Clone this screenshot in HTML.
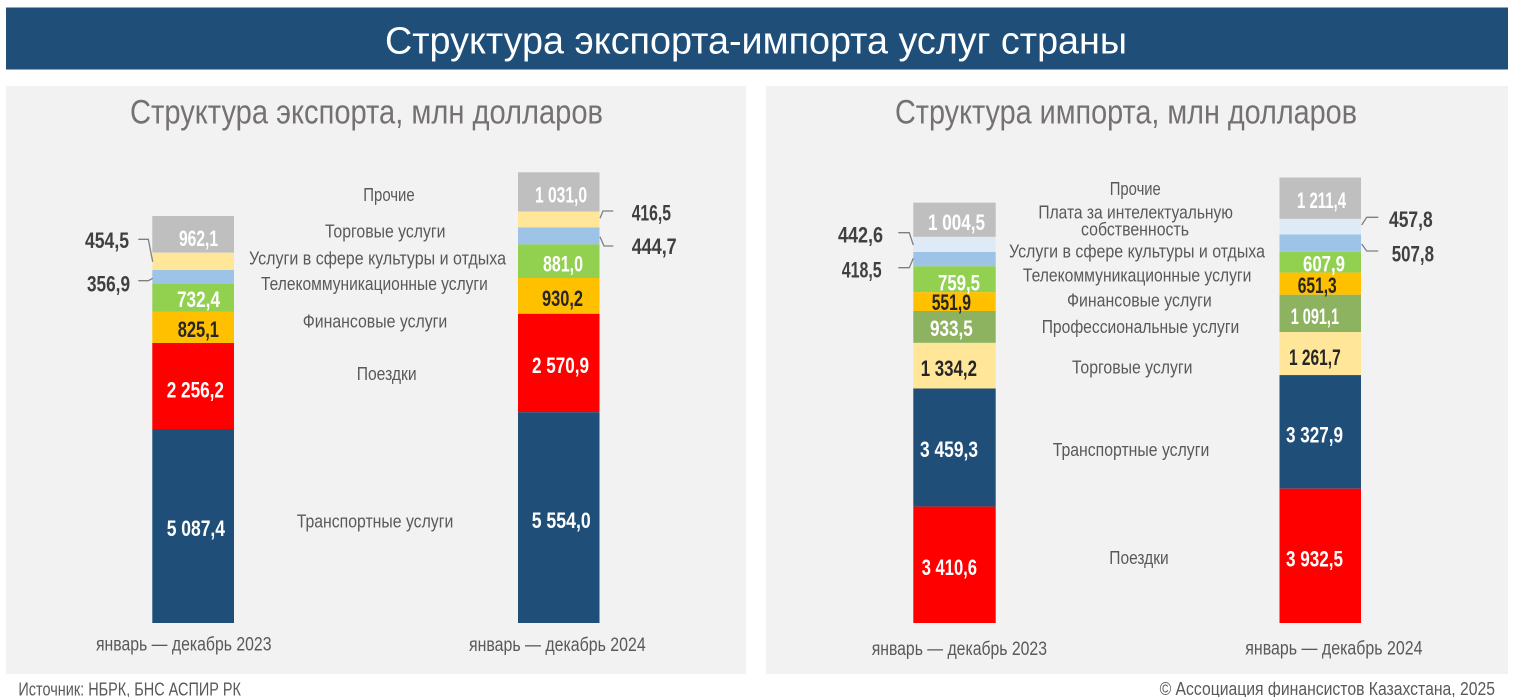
<!DOCTYPE html>
<html><head><meta charset="utf-8"><style>
html,body{margin:0;padding:0;background:#fff;}
svg{display:block;}
text{font-family:"Liberation Sans Narrow","Liberation Sans","Noto Sans CJK SC",sans-serif;}
.v{font-size:22px;font-weight:bold;}
.w{fill:#fff;}
.d{fill:#262626;}
.o{fill:#404040;}
.l{font-size:18px;fill:#595959;}
.c{font-size:19px;fill:#595959;}
</style></head><body>
<svg width="1515" height="697" viewBox="0 0 1515 697" xmlns="http://www.w3.org/2000/svg">
<rect x="0" y="0" width="1515" height="697" fill="#fff"/>
<!-- header -->
<rect x="6" y="7.5" width="1502" height="62" fill="#1f4e79"/>
<text x="385" y="53.5" font-size="38" fill="#fff" textLength="742" lengthAdjust="spacingAndGlyphs">Структура экспорта-импорта услуг страны</text>
<!-- panels -->
<rect x="6" y="86" width="740" height="588" fill="#f2f2f2"/>
<rect x="766" y="86" width="742" height="588" fill="#f2f2f2"/>
<text x="130" y="123.5" font-size="34" fill="#767171" textLength="473" lengthAdjust="spacingAndGlyphs">Структура экспорта, млн долларов</text>
<text x="895" y="123.5" font-size="34" fill="#767171" textLength="462" lengthAdjust="spacingAndGlyphs">Структура импорта, млн долларов</text>

<!-- EXPORT 2023 -->
<g>
<rect x="152.3" y="216.0" width="81.7" height="36.7" fill="#bfbfbf"/>
<rect x="152.3" y="252.7" width="81.7" height="17.3" fill="#ffe699"/>
<rect x="152.3" y="270.0" width="81.7" height="13.6" fill="#9dc3e6"/>
<rect x="152.3" y="283.6" width="81.7" height="27.9" fill="#92d050"/>
<rect x="152.3" y="311.5" width="81.7" height="31.5" fill="#ffc000"/>
<rect x="152.3" y="343.0" width="81.7" height="86.0" fill="#ff0000"/>
<rect x="152.3" y="429.0" width="81.7" height="194.0" fill="#1f4e79"/>
</g>
<text class="v w" x="179" y="246" textLength="39" lengthAdjust="spacingAndGlyphs">962,1</text>
<text class="v w" x="177" y="307" textLength="43" lengthAdjust="spacingAndGlyphs">732,4</text>
<text class="v d" x="177.7" y="337" textLength="41.3" lengthAdjust="spacingAndGlyphs">825,1</text>
<text class="v w" x="166.7" y="397.3" textLength="57.3" lengthAdjust="spacingAndGlyphs">2 256,2</text>
<text class="v w" x="166.7" y="536" textLength="58.3" lengthAdjust="spacingAndGlyphs">5 087,4</text>
<text class="v o" x="85" y="248" textLength="44" lengthAdjust="spacingAndGlyphs">454,5</text>
<text class="v o" x="87" y="291.5" textLength="43" lengthAdjust="spacingAndGlyphs">356,9</text>
<polyline points="138.3,239.3 148.3,239.3 152.7,261.7" fill="none" stroke="#7f7f7f" stroke-width="1.3"/>
<polyline points="138.3,280.7 148.3,280.7 152.7,278.3" fill="none" stroke="#7f7f7f" stroke-width="1.3"/>

<!-- EXPORT 2024 -->
<g>
<rect x="518" y="172.3" width="81.5" height="39.3" fill="#bfbfbf"/>
<rect x="518" y="211.6" width="81.5" height="15.9" fill="#ffe699"/>
<rect x="518" y="227.5" width="81.5" height="16.9" fill="#9dc3e6"/>
<rect x="518" y="244.4" width="81.5" height="33.6" fill="#92d050"/>
<rect x="518" y="278.0" width="81.5" height="35.8" fill="#ffc000"/>
<rect x="518" y="313.8" width="81.5" height="98.4" fill="#ff0000"/>
<rect x="518" y="412.2" width="81.5" height="210.8" fill="#1f4e79"/>
</g>
<text class="v w" x="535" y="202.5" textLength="52" lengthAdjust="spacingAndGlyphs">1 031,0</text>
<text class="v w" x="543" y="271.5" textLength="40" lengthAdjust="spacingAndGlyphs">881,0</text>
<text class="v d" x="542" y="306" textLength="41" lengthAdjust="spacingAndGlyphs">930,2</text>
<text class="v w" x="532" y="373" textLength="57" lengthAdjust="spacingAndGlyphs">2 570,9</text>
<text class="v w" x="531.7" y="528" textLength="59" lengthAdjust="spacingAndGlyphs">5 554,0</text>
<text class="v o" x="631.7" y="220.5" textLength="39.3" lengthAdjust="spacingAndGlyphs">416,5</text>
<text class="v o" x="631.7" y="254" textLength="45" lengthAdjust="spacingAndGlyphs">444,7</text>
<polyline points="600,218.3 603,211 613.3,211" fill="none" stroke="#7f7f7f" stroke-width="1.3"/>
<polyline points="600,236.7 604,246 613.3,246" fill="none" stroke="#7f7f7f" stroke-width="1.3"/>

<!-- export legend -->
<text class="l" x="363.3" y="201" textLength="51.4" lengthAdjust="spacingAndGlyphs">Прочие</text>
<text class="l" x="325" y="237.7" textLength="120.5" lengthAdjust="spacingAndGlyphs">Торговые услуги</text>
<text class="l" x="249" y="264.3" textLength="257" lengthAdjust="spacingAndGlyphs">Услуги в сфере культуры и отдыха</text>
<text class="l" x="261" y="290" textLength="226.8" lengthAdjust="spacingAndGlyphs">Телекоммуникационные услуги</text>
<text class="l" x="302.7" y="327.3" textLength="144.6" lengthAdjust="spacingAndGlyphs">Финансовые услуги</text>
<text class="l" x="356.7" y="380" textLength="60" lengthAdjust="spacingAndGlyphs">Поездки</text>
<text class="l" x="296.7" y="527.7" textLength="156.6" lengthAdjust="spacingAndGlyphs">Транспортные услуги</text>

<text class="c" x="96" y="650.7" textLength="175.5" lengthAdjust="spacingAndGlyphs">январь — декабрь 2023</text>
<text class="c" x="469" y="651" textLength="176.7" lengthAdjust="spacingAndGlyphs">январь — декабрь 2024</text>

<!-- IMPORT 2023 -->
<g>
<rect x="913.3" y="202.6" width="82.4" height="34.3" fill="#bfbfbf"/>
<rect x="913.3" y="236.9" width="82.4" height="15.1" fill="#deebf7"/>
<rect x="913.3" y="252.0" width="82.4" height="14.3" fill="#9dc3e6"/>
<rect x="913.3" y="266.3" width="82.4" height="25.9" fill="#92d050"/>
<rect x="913.3" y="292.2" width="82.4" height="18.8" fill="#ffc000"/>
<rect x="913.3" y="311.0" width="82.4" height="31.9" fill="#8db360"/>
<rect x="913.3" y="342.9" width="82.4" height="45.6" fill="#ffe699"/>
<rect x="913.3" y="388.5" width="82.4" height="118.1" fill="#1f4e79"/>
<rect x="913.3" y="506.6" width="82.4" height="116.4" fill="#ff0000"/>
</g>
<text class="v w" x="928" y="230" textLength="57" lengthAdjust="spacingAndGlyphs">1 004,5</text>
<text class="v w" x="938" y="290.5" textLength="42" lengthAdjust="spacingAndGlyphs">759,5</text>
<text class="v d" x="931.7" y="310" textLength="39.3" lengthAdjust="spacingAndGlyphs">551,9</text>
<text class="v w" x="930" y="336" textLength="42.7" lengthAdjust="spacingAndGlyphs">933,5</text>
<text class="v d" x="920.7" y="376" textLength="56.3" lengthAdjust="spacingAndGlyphs">1 334,2</text>
<text class="v w" x="920" y="457" textLength="58" lengthAdjust="spacingAndGlyphs">3 459,3</text>
<text class="v w" x="921.7" y="575" textLength="55.3" lengthAdjust="spacingAndGlyphs">3 410,6</text>
<text class="v o" x="838" y="242.5" textLength="45" lengthAdjust="spacingAndGlyphs">442,6</text>
<text class="v o" x="841.7" y="277.5" textLength="40" lengthAdjust="spacingAndGlyphs">418,5</text>
<polyline points="898.3,232.7 909.3,232.7 913.3,245" fill="none" stroke="#7f7f7f" stroke-width="1.3"/>
<polyline points="898.3,267.7 909.3,267.7 913.3,258.3" fill="none" stroke="#7f7f7f" stroke-width="1.3"/>

<!-- IMPORT 2024 -->
<g>
<rect x="1279.5" y="177.5" width="81.5" height="41.4" fill="#bfbfbf"/>
<rect x="1279.5" y="218.9" width="81.5" height="15.6" fill="#deebf7"/>
<rect x="1279.5" y="234.5" width="81.5" height="17.3" fill="#9dc3e6"/>
<rect x="1279.5" y="251.8" width="81.5" height="20.8" fill="#92d050"/>
<rect x="1279.5" y="272.6" width="81.5" height="22.2" fill="#ffc000"/>
<rect x="1279.5" y="294.8" width="81.5" height="37.3" fill="#8db360"/>
<rect x="1279.5" y="332.1" width="81.5" height="43.0" fill="#ffe699"/>
<rect x="1279.5" y="375.1" width="81.5" height="113.6" fill="#1f4e79"/>
<rect x="1279.5" y="488.7" width="81.5" height="134.3" fill="#ff0000"/>
</g>
<text class="v w" x="1297" y="208" textLength="49" lengthAdjust="spacingAndGlyphs">1 211,4</text>
<text class="v w" x="1303" y="271.5" textLength="42" lengthAdjust="spacingAndGlyphs">607,9</text>
<text class="v d" x="1297.7" y="293" textLength="39" lengthAdjust="spacingAndGlyphs">651,3</text>
<text class="v w" x="1290.7" y="324" textLength="48.3" lengthAdjust="spacingAndGlyphs">1 091,1</text>
<text class="v d" x="1289" y="365" textLength="51.7" lengthAdjust="spacingAndGlyphs">1 261,7</text>
<text class="v w" x="1286" y="442.5" textLength="57" lengthAdjust="spacingAndGlyphs">3 327,9</text>
<text class="v w" x="1286" y="566.5" textLength="57" lengthAdjust="spacingAndGlyphs">3 932,5</text>
<text class="v o" x="1389" y="227" textLength="43.7" lengthAdjust="spacingAndGlyphs">457,8</text>
<text class="v o" x="1391.7" y="261.5" textLength="42.3" lengthAdjust="spacingAndGlyphs">507,8</text>
<polyline points="1361.7,225 1366.7,217.3 1378.3,217.3" fill="none" stroke="#7f7f7f" stroke-width="1.3"/>
<polyline points="1361.7,244 1366.7,251 1378.3,251" fill="none" stroke="#7f7f7f" stroke-width="1.3"/>

<!-- import legend -->
<text class="l" x="1109.8" y="195" textLength="51" lengthAdjust="spacingAndGlyphs">Прочие</text>
<text class="l" x="1038.4" y="218.3" textLength="194.6" lengthAdjust="spacingAndGlyphs">Плата за интелектуальную</text>
<text class="l" x="1081" y="235.7" textLength="108" lengthAdjust="spacingAndGlyphs">собственность</text>
<text class="l" x="1009" y="257.7" textLength="256" lengthAdjust="spacingAndGlyphs">Услуги в сфере культуры и отдыха</text>
<text class="l" x="1022.9" y="281.7" textLength="228.5" lengthAdjust="spacingAndGlyphs">Телекоммуникационные услуги</text>
<text class="l" x="1067" y="306.7" textLength="144.8" lengthAdjust="spacingAndGlyphs">Финансовые услуги</text>
<text class="l" x="1041.7" y="333" textLength="197.6" lengthAdjust="spacingAndGlyphs">Профессиональные услуги</text>
<text class="l" x="1072" y="373.5" textLength="120.5" lengthAdjust="spacingAndGlyphs">Торговые услуги</text>
<text class="l" x="1052.7" y="456" textLength="156.6" lengthAdjust="spacingAndGlyphs">Транспортные услуги</text>
<text class="l" x="1109.3" y="564" textLength="59.4" lengthAdjust="spacingAndGlyphs">Поездки</text>

<text class="c" x="871.7" y="655" textLength="175.3" lengthAdjust="spacingAndGlyphs">январь — декабрь 2023</text>
<text class="c" x="1245.3" y="654.3" textLength="177.2" lengthAdjust="spacingAndGlyphs">январь — декабрь 2024</text>

<!-- footer -->
<text x="18.4" y="695.7" font-size="18" fill="#595959" textLength="222.6" lengthAdjust="spacingAndGlyphs">Источник: НБРК, БНС АСПИР РК</text>
<text x="1159.6" y="695" font-size="18" fill="#595959" textLength="335.4" lengthAdjust="spacingAndGlyphs">© Ассоциация финансистов Казахстана, 2025</text>
</svg>
</body></html>
